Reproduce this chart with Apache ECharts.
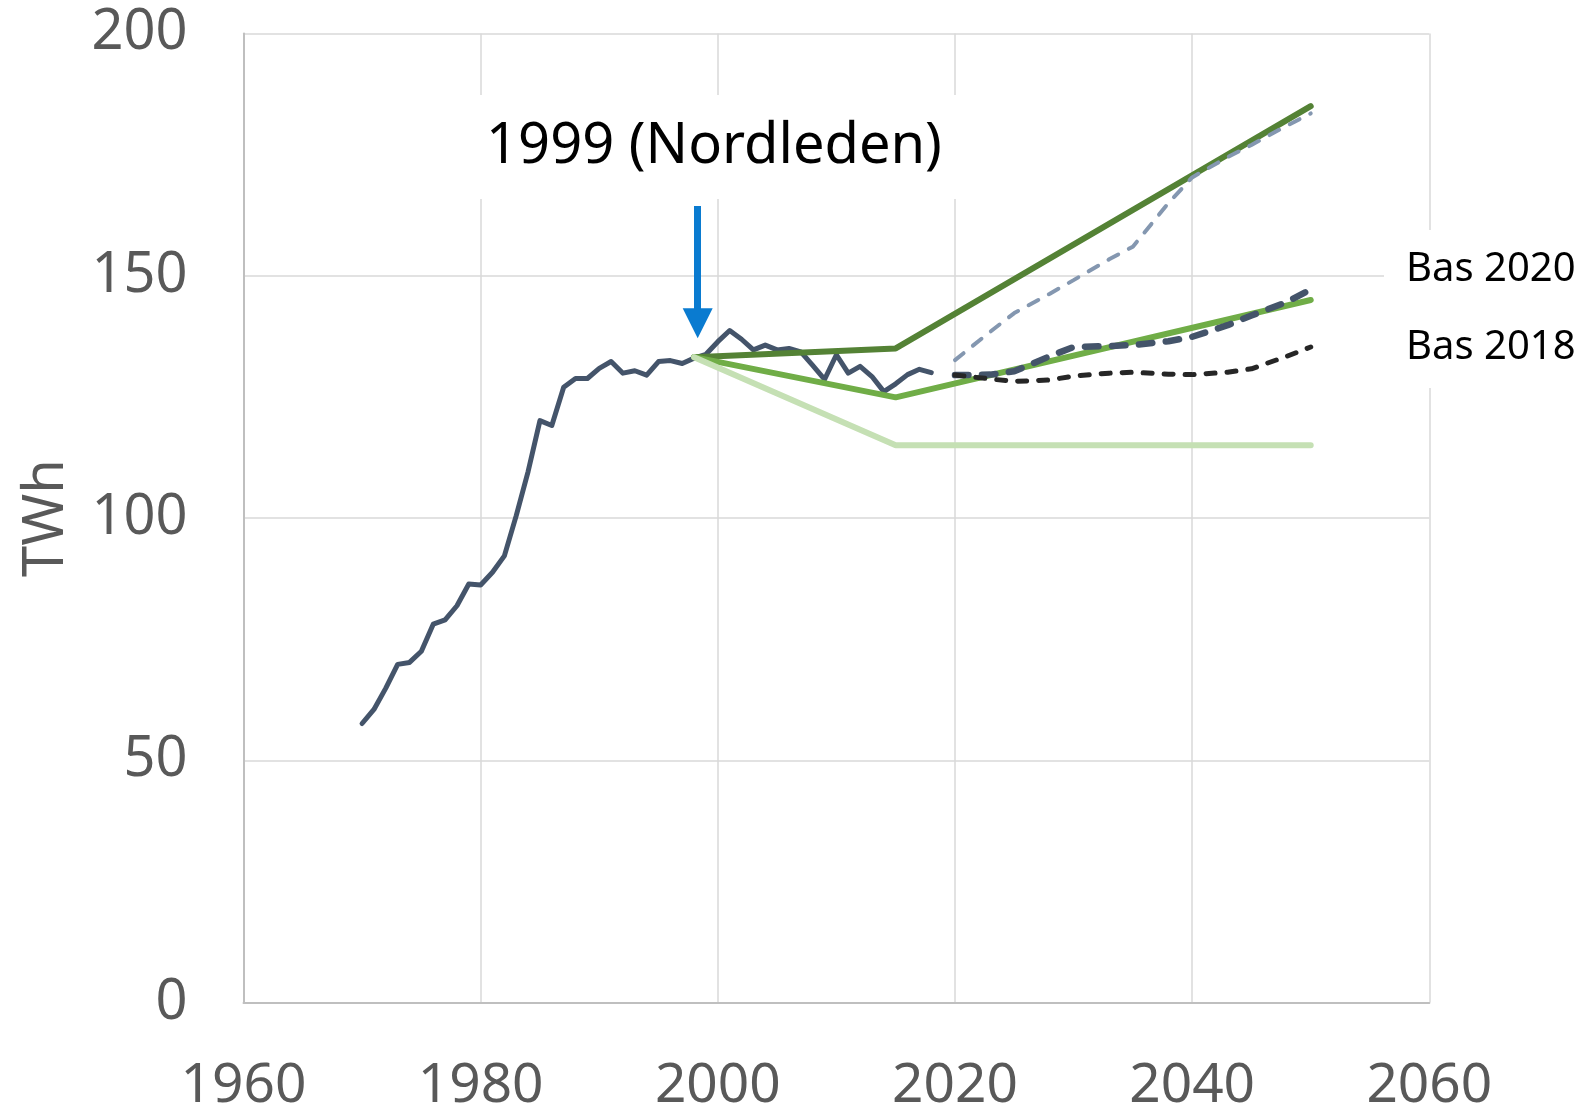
<!DOCTYPE html>
<html>
<head>
    <meta charset="utf-8">
    <script src="https://cdn.jsdelivr.net/npm/echarts@6/dist/echarts.min.js"></script>
    <style>
        body { margin: 0; background: #fff; }
    </style>
</head>
<body>
<div id="main" style="width: 1588px;height: 1111px;"></div>
<script type="text/javascript">
    // historisk elanvändning
    var histYears = [1970, 1971, 1972, 1973, 1974, 1975, 1976, 1977, 1978, 1979,
        1980, 1981, 1982, 1983, 1984, 1985, 1986, 1987, 1988, 1989,
        1990, 1991, 1992, 1993, 1994, 1995, 1996, 1997, 1998, 1999,
        2000, 2001, 2002, 2003, 2004, 2005, 2006, 2007, 2008, 2009,
        2010, 2011, 2012, 2013, 2014, 2015, 2016, 2017, 2018];
    var histValues = [57.6, 60.5, 64.9, 69.8, 70.2, 72.5, 78.1, 79.0, 81.9, 86.4,
        86.2, 88.8, 92.2, 100.5, 109.6, 120.1, 119.1, 127.0, 128.8, 128.8,
        130.9, 132.3, 129.9, 130.4, 129.5, 132.3, 132.5, 131.9, 133.0, 133.8,
        136.4, 138.7, 136.9, 134.7, 135.7, 134.7, 135.0, 134.3, 131.5, 128.6,
        133.7, 129.9, 131.3, 129.2, 126.1, 127.7, 129.6, 130.7, 130.0];

    // Nordleden 1999 scenarier
    var nlYears = [1998, 2015, 2050];
    var nlHigh = [133.2, 135.0, 185.0];
    var nlMid = [133.2, 124.9, 145.0];
    var nlLow = [133.2, 115.0, 115.0];

    // senare prognoser
    var progYears = [2020, 2023, 2025, 2028, 2030, 2033, 2035, 2038, 2040, 2043, 2045, 2048, 2050];
    var progHigh = [132.6, 138.5, 142.3, 146.3, 149.1, 153.4, 156.0, 165.0, 170.3, 174.5, 177.0, 181.0, 183.5];
    var bas2020 = [129.5, 129.6, 130.3, 133.4, 135.3, 135.5, 135.7, 136.5, 137.4, 139.8, 141.8, 144.6, 147.2];
    var bas2018 = [129.5, 128.7, 128.2, 128.5, 129.3, 129.9, 130.1, 129.7, 129.6, 130.1, 130.8, 133.4, 135.3];

    // pil för 1999
    var arrowYear = 1998.3;
    var arrowFrom = 164.4;
    var arrowTo = 140.2;

    var xTicks = [1960, 2060, 20];
    var yTicks = [0, 200, 50];

    function pairs(xs, ys) {
        var out = [];
        for (var i = 0; i < xs.length; i++) {
            out.push([xs[i], ys[i]]);
        }
        return out;
    }

    var font = '"Noto Sans", "Open Sans", sans-serif';

    var myChart = echarts.init(document.getElementById('main'));

    var option = {
        animation: false,
        backgroundColor: '#fff',
        grid: {
            left: 243.5,
            right: 158.7,
            top: 33.5,
            bottom: 108.4,
            outerBoundsMode: 'none'
        },
        xAxis: {
            type: 'value',
            min: xTicks[0],
            max: xTicks[1],
            interval: xTicks[2],
            axisLine: { lineStyle: { color: '#BFBFBF', width: 2 } },
            axisTick: { show: false },
            splitLine: { lineStyle: { color: '#D9D9D9', width: 1.5 } },
            axisLabel: {
                color: '#595959',
                fontSize: 55,
                fontFamily: font,
                margin: 56,
                formatter: function (v) { return String(v); }
            }
        },
        yAxis: {
            type: 'value',
            min: yTicks[0],
            max: yTicks[1],
            interval: yTicks[2],
            name: 'TWh',
            nameLocation: 'middle',
            nameGap: 168,
            nameTextStyle: {
                color: '#595959',
                fontSize: 56,
                fontFamily: font
            },
            axisLine: { show: true, lineStyle: { color: '#BFBFBF', width: 2 } },
            axisTick: { show: false },
            splitLine: { lineStyle: { color: '#D9D9D9', width: 1.5 } },
            axisLabel: {
                color: '#595959',
                fontSize: 56,
                fontFamily: font,
                margin: 56
            }
        },
        series: [
            {
                name: 'Historik',
                type: 'line',
                data: pairs(histYears, histValues),
                showSymbol: false,
                lineStyle: { color: '#44546A', width: 5, join: 'round', cap: 'round' },
                markLine: {
                    silent: true,
                    symbol: ['none', 'triangle'],
                    symbolSize: 30,
                    label: { show: false },
                    lineStyle: { color: '#0A7BD0', width: 7, type: 'solid' },
                    data: [[
                        { coord: [arrowYear, arrowFrom] },
                        { coord: [arrowYear, arrowTo] }
                    ]]
                }
            },
            {
                name: 'Nordleden hög',
                type: 'line',
                data: pairs(nlYears, nlHigh),
                showSymbol: false,
                lineStyle: { color: '#548235', width: 6, cap: 'round' }
            },
            {
                name: 'Nordleden mellan',
                type: 'line',
                data: pairs(nlYears, nlMid),
                showSymbol: false,
                lineStyle: { color: '#70AD47', width: 6, cap: 'round' }
            },
            {
                name: 'Nordleden låg',
                type: 'line',
                data: pairs(nlYears, nlLow),
                showSymbol: false,
                lineStyle: { color: '#C5E0B4', width: 6, cap: 'round' }
            },
            {
                name: 'Hög prognos',
                type: 'line',
                data: pairs(progYears, progHigh),
                showSymbol: false,
                lineStyle: { color: '#8497B0', width: 4, type: [11, 12], cap: 'round' }
            },
            {
                name: 'Bas 2020',
                type: 'line',
                data: pairs(progYears, bas2020),
                showSymbol: false,
                lineStyle: { color: '#44546A', width: 6.5, type: [13.5, 13.5], cap: 'round' }
            },
            {
                name: 'Bas 2018',
                type: 'line',
                data: pairs(progYears, bas2018),
                showSymbol: false,
                lineStyle: { color: '#262626', width: 5, type: [9, 12], cap: 'round' }
            }
        ],
        graphic: [
            {
                type: 'text',
                z: 100,
                x: 714,
                y: 147,
                style: {
                    text: '1999 (Nordleden)',
                    font: '56px ' + font,
                    fill: '#000',
                    align: 'center',
                    verticalAlign: 'middle',
                    backgroundColor: '#fff',
                    padding: [24, 22]
                }
            },
            {
                type: 'text',
                z: 100,
                x: 1384,
                y: 270,
                style: {
                    text: 'Bas 2020',
                    font: '40px ' + font,
                    fill: '#000',
                    align: 'left',
                    verticalAlign: 'middle',
                    backgroundColor: '#fff',
                    padding: [20, 20, 20, 22]
                }
            },
            {
                type: 'text',
                z: 100,
                x: 1384,
                y: 348,
                style: {
                    text: 'Bas 2018',
                    font: '40px ' + font,
                    fill: '#000',
                    align: 'left',
                    verticalAlign: 'middle',
                    backgroundColor: '#fff',
                    padding: [20, 20, 20, 22]
                }
            }
        ]
    };

    myChart.setOption(option);
</script>
</body>
</html>
